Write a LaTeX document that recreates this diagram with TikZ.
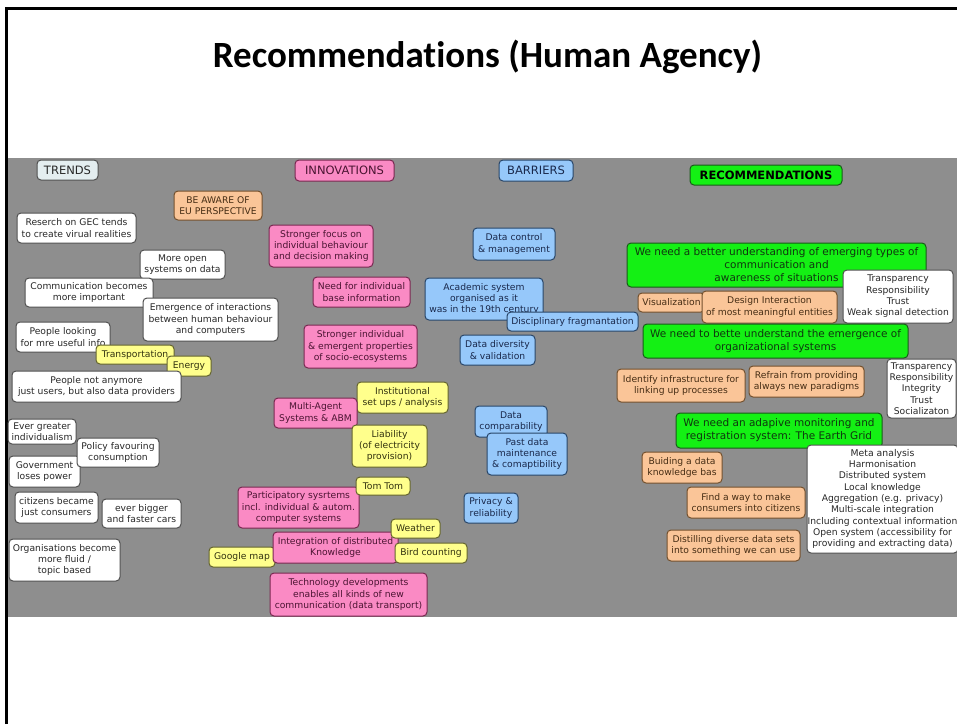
\documentclass[tikz,border=0pt]{standalone}
\usepackage{fontspec}
\setmainfont{DejaVu Sans}
\newfontfamily\titlefont[Ligatures={NoCommon}]{Carlito}
\definecolor{bgray}{RGB}{142,142,142}
\definecolor{wfill}{RGB}{255,255,255}
\definecolor{wdraw}{RGB}{80,80,80}
\definecolor{wtext}{RGB}{40,40,40}
\definecolor{ofill}{RGB}{250,197,152}
\definecolor{odraw}{RGB}{115,80,45}
\definecolor{otext}{RGB}{70,45,20}
\definecolor{pfill}{RGB}{250,138,196}
\definecolor{pdraw}{RGB}{120,40,80}
\definecolor{ptext}{RGB}{75,20,50}
\definecolor{yfill}{RGB}{255,255,140}
\definecolor{ydraw}{RGB}{100,100,45}
\definecolor{ytext}{RGB}{50,50,15}
\definecolor{bfill}{RGB}{150,200,250}
\definecolor{bdraw}{RGB}{40,70,105}
\definecolor{btext}{RGB}{25,40,75}
\definecolor{gfill}{RGB}{20,240,20}
\definecolor{gdraw}{RGB}{25,90,25}
\definecolor{gtext}{RGB}{15,55,15}
\definecolor{tfill}{RGB}{228,238,240}
\newcommand\bx[7]{\node[#1,minimum width={(#5)-(#3)},minimum height={(#6)-(#4)}] (#2) at ({((#3)+(#5))/2},{((#4)+(#6))/2}) {#7};}
\begin{document}
\begin{tikzpicture}[x=1pt,y=-1pt,
  box/.style={draw, rounded corners=4pt, line width=1pt, inner sep=0pt, align=center, font=\fontsize{9.2}{11.3}\selectfont},
  wb/.style={box, fill=wfill, draw=wdraw, text=wtext},
  ob/.style={box, fill=ofill, draw=odraw, text=otext},
  pb/.style={box, fill=pfill, draw=pdraw, text=ptext},
  yb/.style={box, fill=yfill, draw=ydraw, text=ytext},
  bb/.style={box, fill=bfill, draw=bdraw, text=btext},
  gb/.style={box, fill=gfill, draw=gdraw, text=gtext, font=\fontsize{10.5}{13}\selectfont},
  hdr/.style={font=\fontsize{11.5}{13}\selectfont},
  hT/.style={box, hdr, fill=tfill, draw=wdraw, text=wtext},
  hP/.style={pb, hdr},
  hB/.style={bb, hdr},
  hG/.style={box, hdr, fill=gfill, draw=gdraw, text=black}]
\useasboundingbox (0,0) rectangle (957,724);
\fill[white] (0,0) rectangle (957,724);
\fill[bgray] (8,158) rectangle (957,617);
\draw[line width=3pt] (6.7,724) -- (6.7,8.5) -- (957,8.5);
\node[font=\titlefont\bfseries\fontsize{37}{40}\selectfont, anchor=base, inner sep=0pt] (title) at (487.5,67) {Recommendations (Human Agency)};
% headers
\bx{hT}{trends}{37}{160}{98}{180}{TRENDS}
\bx{hP}{innov}{295}{160}{394}{181}{INNOVATIONS}
\bx{hB}{barr}{499}{160}{573}{181}{BARRIERS}
\bx{hG}{recs}{690}{165}{842}{185}{\bfseries RECOMMENDATIONS}
% trends
\bx{wb}{t1}{17}{213}{136}{243}{Reserch on GEC tends\\to create virual realities}
\bx{wb}{t2}{140}{250}{225}{279}{More open\\systems on data}
\bx{wb}{t3}{25}{278}{153}{307}{Communication becomes\\more important}
\bx{wb}{t4}{143}{298}{278}{341}{Emergence of interactions\\between human behaviour\\and computers}
\bx{wb}{t5}{16}{322}{110}{352}{People looking\\for mre useful info}
\bx{yb}{t6}{96}{345}{174}{364}{Transportation}
\bx{yb}{t7}{167}{356}{211}{376}{Energy}
\bx{wb}{t8}{12}{371}{181}{402}{People not anymore\\just users, but also data providers}
\bx{wb}{t9}{8}{419}{76}{444}{Ever greater\\individualism}
\bx{wb}{t11}{9}{456}{80}{487}{Government\\loses power}
\bx{wb}{t10}{77}{438}{159}{467}{Policy favouring\\consumption}
\bx{wb}{t12}{15}{492}{98}{523}{citizens became\\just consumers}
\bx{wb}{t13}{102}{499}{181}{528}{ever bigger\\and faster cars}
\bx{wb}{t14}{9}{539}{120}{581}{Organisations become\\more fluid /\\topic based}
\bx{ob}{eu}{174}{191}{262}{220}{BE AWARE OF\\EU PERSPECTIVE}
% innovations
\bx{pb}{i1}{269}{225}{373}{267}{Stronger focus on\\individual behaviour\\and decision making}
\bx{pb}{i2}{313}{277}{410}{307}{Need for individual\\base information}
\bx{pb}{i3}{304}{325}{417}{368}{Stronger individual\\\& emergent properties\\of socio-ecosystems}
\bx{yb}{i5}{357}{382}{448}{413}{Institutional\\set ups / analysis}
\bx{pb}{i4}{274}{398}{357}{428}{Multi-Agent\\Systems \& ABM}
\bx{yb}{i6}{352}{425}{427}{467}{Liability\\(of electricity\\provision)}
\bx{pb}{i8}{238}{487}{359}{528}{Participatory sysrtems\\incl. individual \& autom.\\computer systems}
\bx{yb}{i7}{356}{477}{410}{495}{Tom Tom}
\bx{yb}{i11}{209}{547}{275}{567}{Google map}
\bx{pb}{i10}{273}{532}{398}{563}{Integration of distributed\\Knowledge}
\bx{yb}{i9}{391}{519}{440}{538}{Weather}
\bx{yb}{i12}{395}{543}{467}{563}{Bird counting}
\bx{pb}{i13}{270}{573}{427}{616}{Technology developments\\enables all kinds of new\\communication (data transport)}
% barriers
\bx{bb}{b1}{473}{228}{555}{260}{Data control\\\& management}
\bx{bb}{b2}{425}{278}{543}{320}{Academic system\\organised as it\\was in the 19th century}
\bx{bb}{b3}{507}{312}{638}{331}{Disciplinary fragmantation}
\bx{bb}{b4}{460}{335}{535}{365}{Data diversity\\\& validation}
\bx{bb}{b5}{475}{406}{547}{437}{Data\\comparability}
\bx{bb}{b6}{487}{433}{567}{475}{Past data\\maintenance\\\& comaptibility}
\bx{bb}{b7}{464}{493}{518}{523}{Privacy \&\\reliability}
% recommendations
\bx{gb}{r1}{627}{243}{926}{287}{We need a better understanding of emerging types of\\communication and\\awareness of situations}
\bx{wb}{r2}{843}{270}{953}{323}{Transparency\\Responsibility\\Trust\\Weak signal detection}
\bx{ob}{r3}{638}{293}{705}{312}{Visualization}
\bx{ob}{r4}{702}{291}{837}{323}{Design Interaction\\of most meaningful entities}
\bx{gb}{r5}{643}{324}{908}{358}{We need to bette understand the emergence of\\organizational systems}
\bx{wb}{r6}{887}{359}{956}{418}{Transparency\\Responsibility\\Integrity\\Trust\\Socializaton}
\bx{ob}{r7}{617}{369}{745}{402}{Identify infrastructure for\\linking up processes}
\bx{ob}{r8}{749}{366}{864}{397}{Refrain from providing\\always new paradigms}
\bx{gb}{r9}{676}{413}{882}{448}{We need an adapive monitoring and\\registration system: The Earth Grid}
\bx{wb}{r10}{807}{445}{958}{553}{\fontsize{9.3}{10.8}\selectfont Meta analysis\\Harmonisation\\Distributed system\\Local knowledge\\Aggregation (e.g. privacy)\\Multi-scale integration\\Including contextual information\\Open system (accessibility for\\providing and extracting data)}
\bx{ob}{r11}{642}{452}{722}{483}{Buiding a data\\knowledge bas}
\bx{ob}{r12}{687}{487}{805}{518}{Find a way to make\\consumers into citizens}
\bx{ob}{r13}{667}{530}{800}{561}{Distilling diverse data sets\\into something we can use}
\end{tikzpicture}
\end{document}
